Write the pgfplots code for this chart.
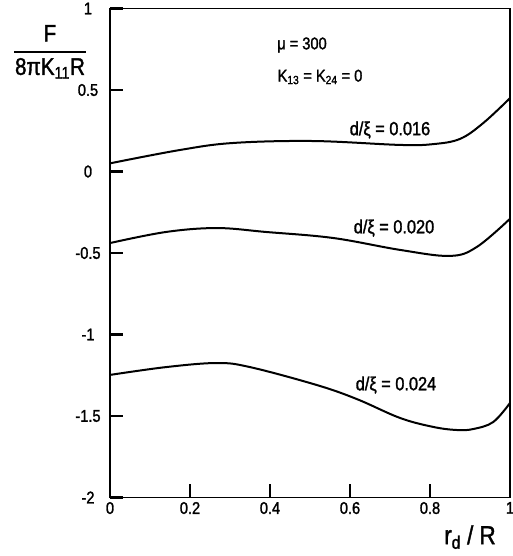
\documentclass[border=0pt]{standalone}
\usepackage{pgfplots}
\pgfplotsset{compat=1.18}
\usepackage{fontspec}
\setmainfont{Liberation Sans}[FakeStretch=0.86, FakeBold=1.5]
\begin{document}
\begin{tikzpicture}
\begin{axis}[
  scale only axis, width=400pt, height=489pt,
  xmin=0, xmax=1, ymin=-2, ymax=1,
  xtick={0,0.2,0.4,0.6,0.8,1}, ytick={-2,-1.5,-1,-0.5,0,0.5,1},
  xticklabels={0,0.2,0.4,0.6,0.8,1},
  yticklabels={-2,-1.5,-1,-0.5,0,0.5,1},
  tick pos=left,
  tick align=inside,
  major tick length=13pt,
  every major tick/.append style={line width=2.2pt, draw=black},
  axis line style={line width=1.6pt},
  tick label style={font=\fontsize{17}{19}\selectfont},
  yticklabel style={anchor=center, xshift=-22pt},
  xticklabel style={yshift=-1pt},
  /pgf/number format/assume math mode=true,
  clip=false,
]
\addplot[line width=2pt, smooth, tension=0.6] coordinates {
 (0,0.05) (0.175,0.132) (0.308,0.175) (0.508,0.187) (0.725,0.163) (0.808,0.168) (0.875,0.2) (0.933,0.297) (1.0,0.45)};
\addplot[line width=2pt, smooth, tension=0.6] coordinates {
 (0,-0.439) (0.14,-0.371) (0.267,-0.347) (0.39,-0.371) (0.558,-0.408) (0.725,-0.481) (0.85,-0.518) (0.917,-0.463) (1.0,-0.29)};
\addplot[line width=2pt, smooth, tension=0.6] coordinates {
 (0,-1.248) (0.14,-1.2) (0.267,-1.175) (0.35,-1.2) (0.517,-1.31) (0.617,-1.396) (0.725,-1.512) (0.808,-1.567) (0.867,-1.586) (0.908,-1.58) (0.958,-1.537) (1.0,-1.42)};
\node[font=\fontsize{17}{19}\selectfont] at (axis cs:0.48,0.776) {μ = 300};
\node[font=\fontsize{17}{19}\selectfont] at (axis cs:0.525,0.58) {K\textsubscript{13} = K\textsubscript{24} = 0};
\node[font=\fontsize{19}{21}\selectfont] at (axis cs:0.70,0.255) {d/ξ = 0.016};
\node[font=\fontsize{19}{21}\selectfont] at (axis cs:0.71,-0.347) {d/ξ = 0.020};
\node[font=\fontsize{19}{21}\selectfont] at (axis cs:0.715,-1.31) {d/ξ = 0.024};
\node[font=\fontsize{24}{26}\selectfont, inner sep=0pt] at (rel axis cs:-0.15,0.909) {\setlength{\arrayrulewidth}{1.5pt}\setlength{\tabcolsep}{1pt}\begin{tabular}{c}F\\[2pt]\hline\rule{0pt}{22pt}8πK\textsubscript{11}R\end{tabular}};
\node[font=\fontsize{26}{28}\selectfont] at (rel axis cs:0.9,-0.081) {r\textsubscript{d} / R};
\end{axis}
\pgfresetboundingbox
\path (current axis.south west) ++(-110pt,-58.5pt) rectangle ++(512pt,556pt);
\end{tikzpicture}
\end{document}
